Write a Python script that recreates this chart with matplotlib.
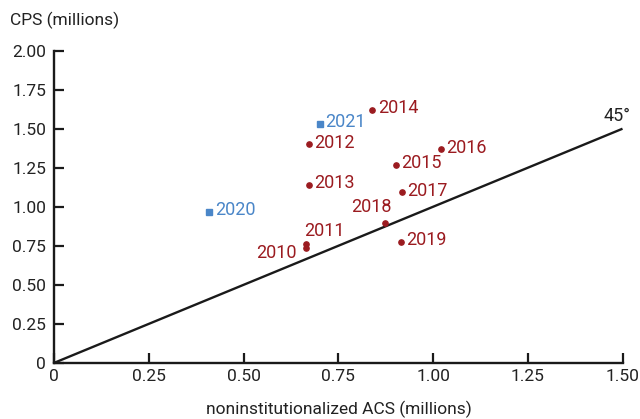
import matplotlib
matplotlib.use("Agg")
import matplotlib.pyplot as plt

years = ["2010", "2011", "2012", "2013", "2014", "2015", "2016", "2017", "2018", "2019", "2020", "2021"]
acs = [0.664, 0.664, 0.672, 0.672, 0.839, 0.902, 1.021, 0.918, 0.873, 0.915, 0.409, 0.701]
cps = [0.736, 0.762, 1.401, 1.140, 1.620, 1.270, 1.369, 1.093, 0.898, 0.774, 0.967, 1.533]

xticks = [0, 0.25, 0.50, 0.75, 1.00, 1.25, 1.50]
xticklabels = ["0", "0.25", "0.50", "0.75", "1.00", "1.25", "1.50"]
yticks = [0, 0.25, 0.50, 0.75, 1.00, 1.25, 1.50, 1.75, 2.00]
yticklabels = ["0", "0.25", "0.50", "0.75", "1.00", "1.25", "1.50", "1.75", "2.00"]

RED = "#9b1b20"
BLUE = "#4a86c8"
INK = "#222222"

plt.rcParams['font.family'] = ['Roboto', 'DejaVu Sans']

fig = plt.figure(figsize=(6.4, 4.19), dpi=100)
ax = fig.add_axes([54.3/640, 1-362.8/419, (622.5-54.3)/640, (362.8-50.7)/419])

ax.plot([0, 1.5], [0, 1.5], color="#1a1a1a", lw=1.7, solid_capstyle="butt")
ax.annotate("45°", xy=(1.5, 1.5), xytext=(-4, 3), textcoords="offset points",
            ha="center", va="bottom", fontsize=13, color=INK)

offsets = {
    "2010": ((-6.5, -3.6), "right"),
    "2011": ((-1, 9), "left"),
    "2018": ((5, 11), "right"),
}

for yr, x, y in zip(years, acs, cps):
    if yr in ("2020", "2021"):
        color = BLUE
        ax.plot(x, y, marker="s", ms=4.3, color=color, ls="none")
    else:
        color = RED
        ax.plot(x, y, marker="o", ms=3.8, color=color, ls="none")
    off, ha = offsets.get(yr, ((4, 1.2), "left"))
    ax.annotate(yr, xy=(x, y), xytext=off, textcoords="offset points",
                ha=ha, va="center", fontsize=13, color=color)

ax.set_xlim(0, 1.5)
ax.set_ylim(0, 2.0)
ax.set_xticks(xticks)
ax.set_xticklabels(xticklabels)
ax.set_yticks(yticks)
ax.set_yticklabels(yticklabels)
ax.tick_params(axis="both", direction="in", length=7, width=1.6, labelsize=12.5,
               colors="#1a1a1a", labelcolor=INK)
ax.tick_params(axis="x", pad=4.5)
ax.tick_params(axis="y", pad=6)
for s in ("top", "right"):
    ax.spines[s].set_visible(False)
for s in ("left", "bottom"):
    ax.spines[s].set_linewidth(1.7)
    ax.spines[s].set_color("#1a1a1a")
fig.text(338.4/640, 1-409/419, "noninstitutionalized ACS (millions)", fontsize=12.5,
         color=INK, ha="center", va="center")
fig.text(10/640, 1-20/419, "CPS (millions)", fontsize=12.5, color=INK, ha="left", va="center")

fig.savefig("out.png", dpi=100)
